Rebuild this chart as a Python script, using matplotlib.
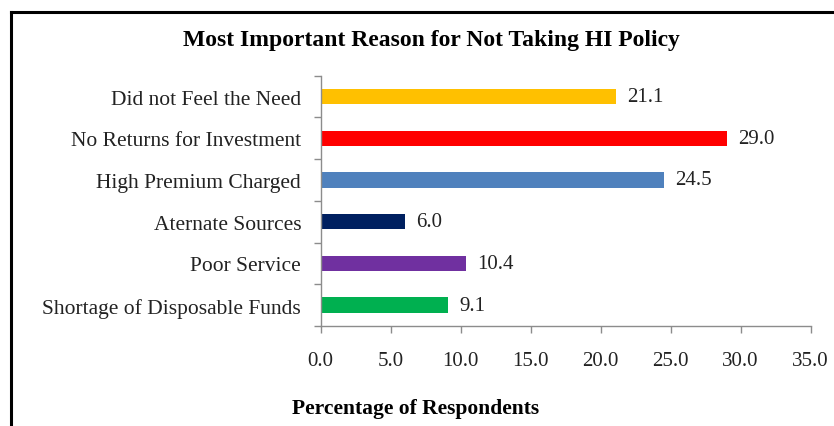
import matplotlib.pyplot as plt
from matplotlib.lines import Line2D

reasons = [
    "Did not Feel the Need",
    "No Returns for Investment",
    "High Premium Charged",
    "Aternate Sources",
    "Poor Service",
    "Shortage of Disposable Funds",
]
percent = [21.1, 29.0, 24.5, 6.0, 10.4, 9.1]
colors = ["#FFC000", "#FF0000", "#4F81BD", "#002060", "#7030A0", "#00B050"]
xticks = [0, 5, 10, 15, 20, 25, 30, 35]

plt.rcParams["font.family"] = ["Liberation Serif", "DejaVu Serif"]

fig = plt.figure(figsize=(8.34, 4.27), dpi=100)
ax = fig.add_axes([0.3845, 0.2342, 0.972 - 0.3845, 0.8204 - 0.2342])

n = len(reasons)
ypos = list(range(n))
ax.barh(ypos, percent, height=0.37, color=colors)
ax.set_ylim(n - 0.5, -0.5)
ax.set_xlim(0, 35)

for y, v in zip(ypos, percent):
    ax.text(v + 0.8, y, f"{v:.1f}", va="center", ha="left", fontsize=15, color="#222222")

ax.set_yticks(ypos)
ax.set_yticklabels(reasons, fontsize=15.5, color="#222222")
ax.set_yticks([i - 0.5 for i in range(n + 1)], minor=True)
ax.tick_params(axis="y", which="major", length=0, pad=14)
ax.tick_params(axis="y", which="minor", length=5, color="#8c8c8c", width=1)

ax.set_xticks(xticks)
ax.set_xticklabels([f"{t:.1f}" for t in xticks], fontsize=15, color="#222222")
ax.tick_params(axis="x", length=5, color="#8c8c8c", width=1, pad=13)

for side in ("top", "right"):
    ax.spines[side].set_visible(False)
for side in ("left", "bottom"):
    ax.spines[side].set_color("#8c8c8c")
    ax.spines[side].set_linewidth(1)

fig.text(0.517, 0.905, "Most Important Reason for Not Taking HI Policy",
         ha="center", va="center", fontsize=17, fontweight="bold")
fig.text(0.498, 0.043, "Percentage of Respondents",
         ha="center", va="center", fontsize=15.5, fontweight="bold")

# frame along the top and left edge
fig.add_artist(Line2D([11 / 834, 1.0], [1 - 13 / 427, 1 - 13 / 427],
                      transform=fig.transFigure, color="black", lw=2.2))
fig.add_artist(Line2D([11 / 834, 11 / 834], [0.0, 1 - 13 / 427],
                      transform=fig.transFigure, color="black", lw=2.2))

fig.savefig("out.png", dpi=100)
